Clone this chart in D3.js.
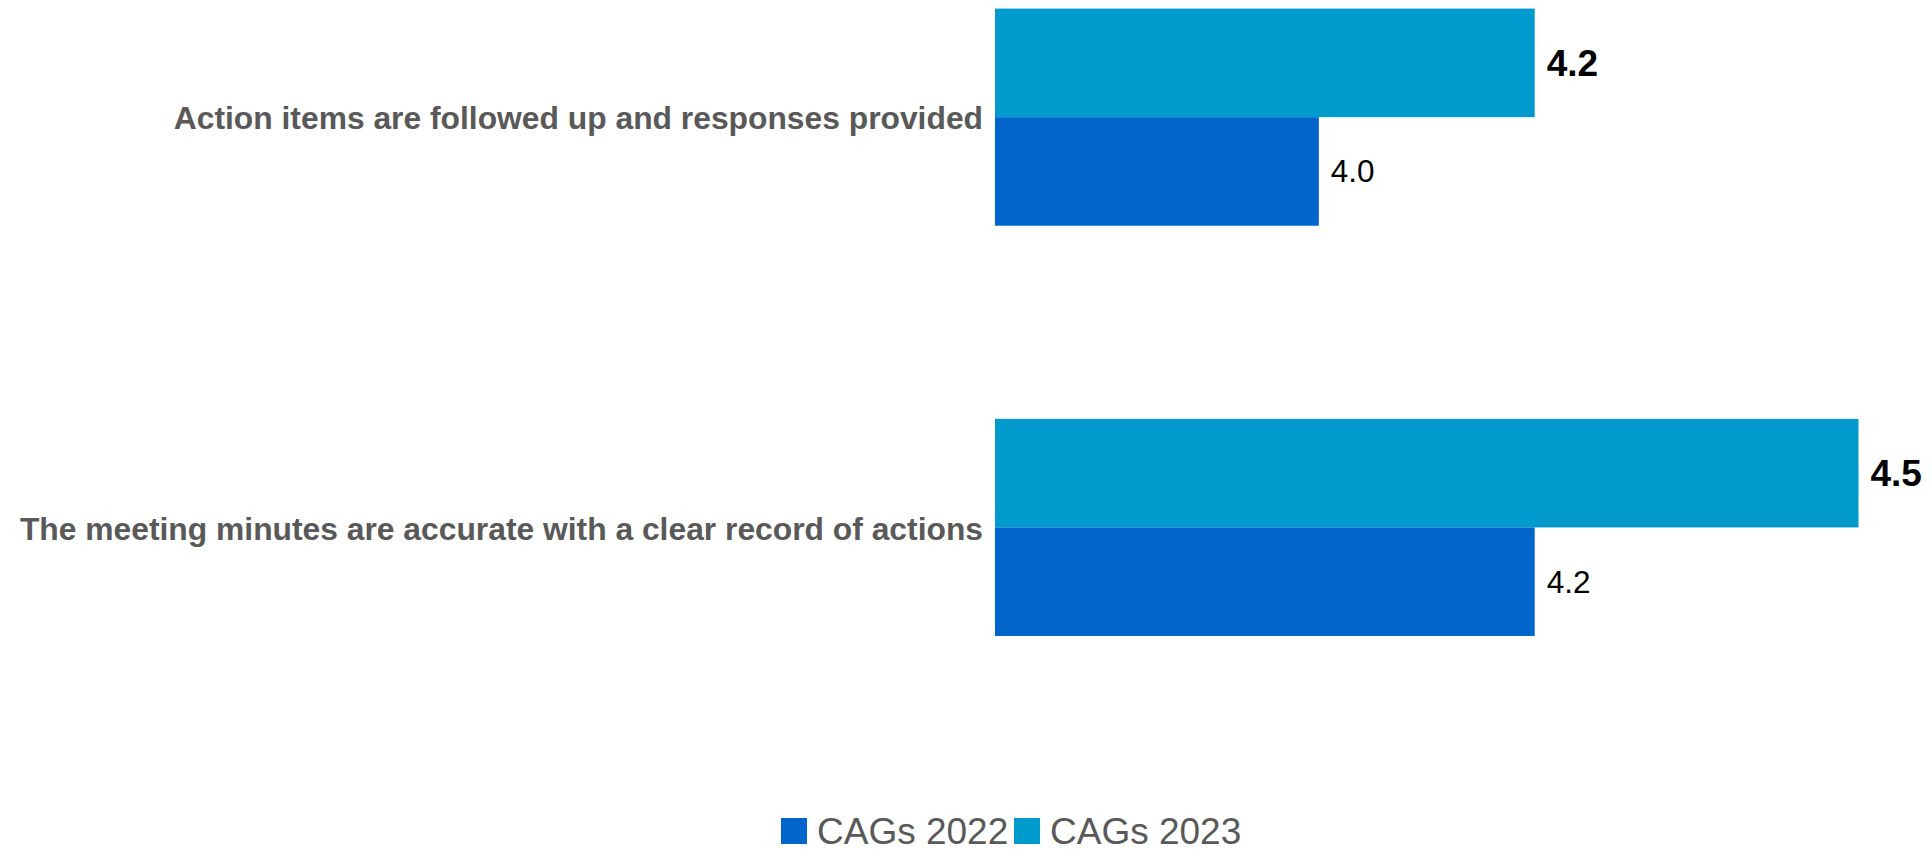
<!DOCTYPE html>
<html>
<head>
<meta charset="utf-8">
<script src="https://cdn.jsdelivr.net/npm/d3@7"></script>
<style>
  html, body { margin: 0; padding: 0; background: #ffffff; }
  svg { display: block; font-family: "Liberation Sans", Arial, sans-serif; }
</style>
</head>
<body>
<svg id="chart" width="1932" height="852"></svg>
<script>
const categories = [
  "Action items are followed up and responses provided",
  "The meeting minutes are accurate with a clear record of actions"
];
const seriesNames = ["CAGs 2022", "CAGs 2023"];
const values2022 = [4.0, 4.2];
const values2023 = [4.2, 4.5];
const valueLabels2022 = ["4.0", "4.2"];
const valueLabels2023 = ["4.2", "4.5"];
const xDomain = [3.7, 4.5];

const colors = { "CAGs 2022": "#0265CB", "CAGs 2023": "#009ACD" };

const svg = d3.select("#chart");

const x = d3.scaleLinear().domain(xDomain).range([995, 1858.5]);
const y0 = d3.scaleBand().domain(categories).range([8.6, 636]).paddingInner(0.4707).paddingOuter(0);
// within each group the 2023 bar sits on top, 2022 below
const y1 = d3.scaleBand().domain(["CAGs 2023", "CAGs 2022"]).range([0, y0.bandwidth()]);

const rows = [];
categories.forEach((c, i) => {
  rows.push({ cat: c, series: "CAGs 2023", value: values2023[i], label: valueLabels2023[i], bold: true });
  rows.push({ cat: c, series: "CAGs 2022", value: values2022[i], label: valueLabels2022[i], bold: false });
});

// bars
svg.append("g").selectAll("rect").data(rows).join("rect")
  .attr("x", x(xDomain[0]))
  .attr("y", d => y0(d.cat) + y1(d.series))
  .attr("width", d => x(d.value) - x(xDomain[0]))
  .attr("height", y1.bandwidth())
  .attr("fill", d => colors[d.series]);

// value labels
svg.append("g").selectAll("text").data(rows).join("text")
  .attr("x", d => x(d.value) + 12)
  .attr("y", d => y0(d.cat) + y1(d.series) + y1.bandwidth() / 2)
  .attr("dy", "0.35em")
  .attr("font-size", d => d.bold ? 37 : 31.5)
  .attr("font-weight", d => d.bold ? "bold" : "normal")
  .attr("fill", "#000000")
  .text(d => d.label);

// category axis labels
const yAxis = d3.axisLeft(y0).tickSize(0).tickPadding(12);
const axisG = svg.append("g").attr("transform", `translate(${x(xDomain[0])},2)`).call(yAxis);
axisG.select(".domain").remove();
axisG.selectAll("text")
  .attr("font-size", 31.8)
  .attr("font-weight", "bold")
  .attr("fill", "#595959")
  .attr("font-family", "'Liberation Sans', Arial, sans-serif");

// legend
const legend = svg.append("g").attr("transform", "translate(781,831)");
const legendItems = [
  { name: seriesNames[0], x: 0 },
  { name: seriesNames[1], x: 233 }
];
const li = legend.selectAll("g").data(legendItems).join("g")
  .attr("transform", d => `translate(${d.x},0)`);
li.append("rect").attr("x", 0).attr("y", -13).attr("width", 26).attr("height", 26)
  .attr("fill", d => colors[d.name]);
li.append("text").attr("x", 36).attr("y", 13)
  .attr("font-size", 37).attr("fill", "#595959")
  .text(d => d.name);
</script>
</body>
</html>
